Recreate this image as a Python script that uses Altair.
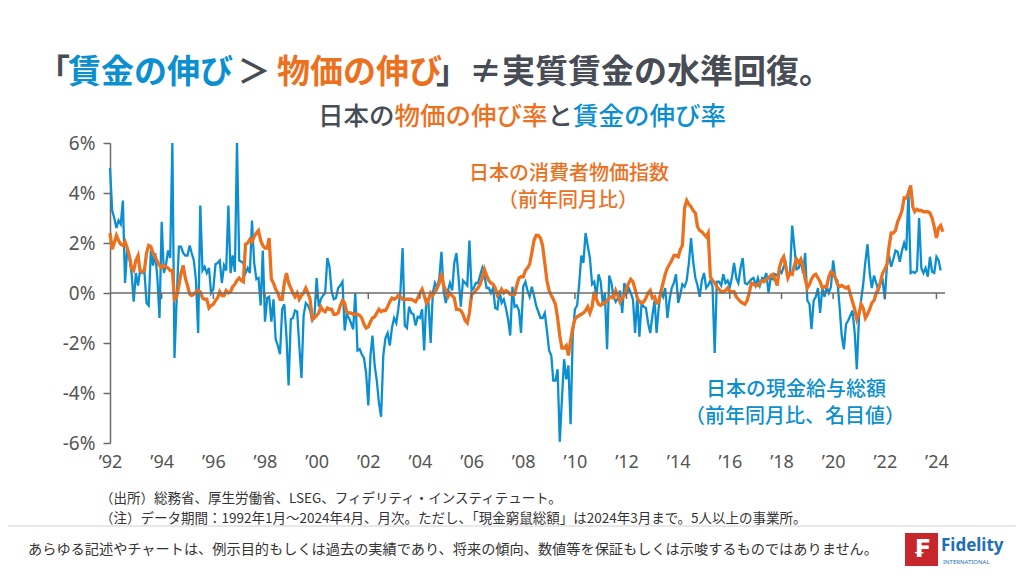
import altair as alt
import pandas as pd

# ---------------- data (monthly, Jan 1992 -> Apr 2024) ----------------
cpi = [
    2.4, 1.75, 2.0, 2.3, 2.1, 1.95, 1.9, 2.05, 1.8, 1.5, 1.0, 0.9,          # 1992
    1.3, 1.5, 0.9, 0.85, 0.9, 1.6, 1.9, 1.85, 1.6, 1.45, 1.25, 1.1,         # 1993
    1.0, 1.1, 1.05, 1.0, 0.9, 0.9, -0.25, -0.15, 0.3, 0.8, 1.1, 0.6,        # 1994
    0.3, -0.05, -0.1, -0.05, 0.05, 0.1, 0.05, -0.2, -0.25, -0.25, -0.6, -0.5,  # 1995
    -0.45, -0.3, -0.2, 0.05, -0.1, -0.1, 0.1, 0.0, 0.05, 0.25, 0.35, 0.5,   # 1996
    0.6, 0.5, 0.45, 1.95, 2.0, 2.15, 2.05, 2.25, 2.4, 2.5, 2.1, 1.9,        # 1997
    1.8, 1.8, 2.2, 0.55, 0.4, 0.15, 0.0, -0.25, -0.25, 0.4, 0.8, 0.4,       # 1998
    0.2, 0.0, -0.15, 0.0, -0.25, -0.1, 0.0, 0.2, 0.0, -0.25, -1.05, -1.0,   # 1999
    -0.9, -0.8, -0.55, -0.7, -0.75, -0.6, -0.65, -0.65, -0.85, -0.85, -0.8, -0.5,  # 2000
    -0.3, -0.4, -0.75, -0.8, -0.8, -0.85, -0.85, -0.85, -0.9, -1.0, -1.25, -1.4,   # 2001
    -1.35, -1.15, -1.0, -0.95, -0.8, -0.65, -0.75, -0.7, -0.7, -0.55, -0.35, -0.2, # 2002
    -0.25, -0.2, -0.1, -0.15, -0.25, -0.25, -0.25, -0.25, -0.25, -0.3, -0.35, -0.2, # 2003
    0.0, 0.15, -0.1, -0.4, -0.3, 0.0, -0.1, 0.05, 0.2, 0.4, 0.8, 0.3,       # 2004
    0.1, -0.15, 0.0, -0.1, -0.2, -0.65, -0.65, -0.7, -0.85, -1.1, -1.2, -0.8,  # 2005
    -0.05, 0.0, 0.1, 0.2, 0.35, 0.6, 0.95, 0.7, 0.5, 0.4, 0.35, 0.2,        # 2006
    -0.1, 0.0, 0.15, 0.0, 0.1, 0.05, -0.05, -0.05, -0.05, 0.3, 0.6, 0.65,   # 2007
    0.65, 0.9, 1.0, 1.15, 1.6, 2.1, 2.3, 2.3, 2.2, 1.9, 1.2, 0.5,           # 2008
    0.1, -0.1, -0.25, -0.45, -1.0, -1.7, -2.2, -2.2, -2.1, -2.5, -1.9, -1.4,   # 2009
    -1.05, -0.95, -0.9, -0.85, -0.8, -0.7, -0.55, -0.8, -0.55, 0.05, -0.25, -0.45,  # 2010
    -0.5, -0.4, -0.4, -0.3, -0.2, -0.15, -0.2, 0.1, -0.1, -0.35, -0.2, -0.1,  # 2011
    0.2, 0.4, 0.55, 0.45, 0.15, -0.2, -0.35, -0.4, -0.35, -0.2, 0.0, 0.1,   # 2012
    -0.2, -0.15, -0.4, -0.35, 0.05, 0.4, 0.75, 1.0, 1.15, 1.3, 1.5, 1.5,    # 2013
    1.45, 1.75, 1.9, 3.4, 3.7, 3.55, 3.45, 3.3, 3.2, 2.65, 2.5, 2.45,       # 2014
    2.35, 2.25, 2.4, 0.65, 0.5, 0.4, 0.25, 0.15, 0.05, 0.05, 0.1, 0.2,      # 2015
    0.05, 0.05, 0.05, -0.15, -0.25, -0.35, -0.4, -0.45, -0.3, 0.0, 0.4, 0.35,  # 2016
    0.3, 0.3, 0.4, 0.5, 0.45, 0.55, 0.6, 0.7, 0.75, 0.55, 0.3, 1.0,         # 2017
    1.3, 1.45, 1.05, 0.6, 0.8, 0.75, 1.1, 1.35, 1.2, 1.35, 1.05, 0.55,      # 2018
    0.2, 0.35, 0.55, 0.7, 0.75, 0.6, 0.45, 0.2, 0.25, 0.25, 0.65, 0.85,     # 2019
    0.8, 0.6, 0.35, 0.25, 0.3, 0.25, 0.2, 0.25, -0.05, -0.35, -0.65, -1.05, # 2020
    -0.8, -0.45, -0.6, -1.0, -0.85, -0.65, -0.4, -0.3, 0.0, 0.15, 0.45, 0.8,  # 2021
    0.95, 1.15, 1.85, 2.4, 2.4, 2.5, 2.85, 3.05, 3.3, 3.8, 3.8, 4.0,        # 2022
    4.3, 3.45, 3.25, 3.35, 3.3, 3.3, 3.25, 3.25, 3.25, 3.2, 3.0, 2.65,      # 2023
    2.2, 2.6, 2.7, 2.45,                                                    # 2024
]

wage = [
    5.0, 3.3, 3.0, 2.6, 2.9, 2.75, 3.7, 0.4, 1.8, 1.4, 0.8, -0.35,          # 1992
    0.8, 0.3, 0.9, 0.8, 0.9, -0.4, -0.5, 1.7, 1.1, 1.6, 0.6, -1.0,          # 1993
    2.85, 0.8, 1.1, 1.7, 1.4, 6.0, -2.6, -0.25, 1.85, 1.85, 1.6, 1.5,       # 1994
    1.5, 1.9, 1.6, 1.3, 0.5, -1.6, 3.5, 0.9, 1.05, 0.8, 1.0, 0.0,           # 1995
    0.15, 1.15, 1.2, 1.3, 0.4, 1.1, 0.9, 3.5, 0.8, 1.5, 0.85, 6.0,          # 1996
    1.3, 1.25, 1.2, 0.8, 1.0, 0.8, 2.9, 1.2, 0.55, 0.6, -0.5, 1.7,          # 1997
    -1.15, -0.2, -0.15, -1.15, -0.25, -1.85, -2.1, -2.45, -0.65, -0.45, -1.75, -3.7,  # 1998
    -1.05, -1.0, -0.7, -0.75, -2.1, -3.4, -0.9, -0.4, -0.5, -0.7, -1.1, -0.95,        # 1999
    0.6, -0.55, -0.25, -0.1, 0.0, 1.4, 1.05, 0.05, -0.25, -0.2, 0.2, 0.3,   # 2000
    0.45, -1.5, -0.85, -1.0, -1.2, -1.45, 0.0, -2.3, -2.25, -2.45, -2.6, -3.2,   # 2001
    -4.5, -2.5, -1.7, -2.9, -3.5, -4.4, -4.95, -2.5, -1.8, -1.6, -2.1, -1.4,    # 2002
    -1.0, -1.2, -0.65, 0.1, 1.8, -1.3, -1.4, -0.55, -0.8, -0.85, -1.3, -0.95,   # 2003
    -1.0, -0.65, -2.3, -0.2, -0.4, -2.0, 0.0, 0.4, 0.2, 0.6, 1.65, 0.1,     # 2004
    -0.4, 0.1, 0.4, 0.1, 1.2, 1.6, 0.6, -0.55, 0.5, 0.4, 0.3, 2.1,          # 2005
    0.1, 0.2, 0.4, 0.4, 0.7, 1.0, 0.7, 0.2, 0.2, 0.0, 0.2, -0.6,            # 2006
    -0.65, 0.1, -0.4, -0.25, -0.6, -1.05, -1.7, 0.25, -0.55, -0.5, -0.7, -1.6,  # 2007
    0.25, 0.45, 0.1, -0.15, 0.25, -0.1, -0.5, -0.75, -1.0, -1.0, -0.8, -1.5,    # 2008
    -2.3, -2.5, -3.5, -3.5, -3.05, -5.95, -4.25, -2.65, -3.45, -2.9, -5.25, -1.7,  # 2009
    -0.65, -0.5, 0.3, 1.5, 1.2, 2.4, 1.9, 1.4, 0.35, 0.45, -0.15, 0.75,     # 2010
    0.45, -0.5, 0.0, -2.25, 0.7, 0.4, -0.15, -0.35, -0.2, 0.1, -0.8, 0.4,   # 2011
    0.0, 0.2, 0.0, -0.25, -1.6, -0.15, -1.75, -0.4, -0.55, -0.6, -1.2, -1.6,  # 2012
    -0.9, -0.3, -1.6, -0.55, 0.1, -0.15, 0.2, -1.0, -0.25, 0.2, 0.4, 0.75,  # 2013
    -0.4, -0.05, 0.35, 0.25, 0.5, 1.2, 2.2, 1.25, 0.6, 0.3, -0.15, 0.5,     # 2014
    0.8, 0.2, 0.3, 0.5, 0.25, -2.4, 0.45, 0.45, 0.3, 0.75, 0.4, 0.5,        # 2015
    0.25, 0.65, 1.2, 0.6, 0.4, 1.0, 1.4, 0.4, 0.35, 0.45, 0.55, 0.6,        # 2016
    0.3, 0.6, 0.3, 0.6, 0.55, 0.8, 0.0, 0.6, 0.55, 0.75, 0.7, 0.9,          # 2017
    0.8, 1.05, 1.2, 0.65, 0.8, 2.7, 1.85, 0.95, 1.0, 1.3, 0.8, 1.6,         # 2018
    -0.3, -0.45, -1.45, -0.3, -0.15, 0.2, -0.8, 0.2, -0.15, 0.25, 0.0, 0.25,  # 2019
    1.3, 0.6, 0.5, -0.55, -1.7, -2.25, -1.25, -1.1, -0.9, -0.7, -1.6, -3.05,  # 2020
    -0.95, -0.25, 0.35, 1.25, 1.95, 0.8, 0.2, 0.7, 0.4, 0.1, 0.4, 0.5,      # 2021
    -0.25, 1.15, 1.5, 1.05, 1.35, 1.7, 1.65, 1.25, 1.7, 2.0, 1.7, 4.1,      # 2022
    0.8, 0.85, 0.8, 0.9, 3.0, 1.0, 0.8, 1.0, 0.65, 1.45, 0.85, 0.8,         # 2023
    1.45, 1.3, 0.9,                                                         # 2024
]

y_ticks = [-6, -4, -2, 0, 2, 4, 6]
x_tick_years = list(range(1992, 2025, 2))

title_parts = ["「", "賃金の伸び", "＞", "物価の伸び", "」≠実質賃金の水準回復。"]
subtitle_parts = ["日本の", "物価の伸び率", "と", "賃金の伸び率"]
cpi_label = ["日本の消費者物価指数", "（前年同月比）"]
wage_label = ["日本の現金給与総額", "（前年同月比、名目値）"]
source_note = "（出所）総務省、厚生労働省、LSEG、フィデリティ・インスティテュート。"
data_note = "（注）データ期間：1992年1月～2024年4月、月次。ただし、「現金窮鼠総額」は2024年3月まで。5人以上の事業所。"
disclaimer = "あらゆる記述やチャートは、例示目的もしくは過去の実績であり、将来の傾向、数値等を保証もしくは示唆するものではありません。"

# ---------------- styling ----------------
BLUE = "#0b8fd0"
ORANGE = "#ec711f"
GRAY = "#474c55"
AXIS_GRAY = "#6b6b6b"
FONT = "Noto Sans CJK JP"

W, H = 835, 300
PAD = {"left": 102, "top": 135, "right": 71, "bottom": 123}

months = pd.date_range("1992-01-01", periods=len(cpi), freq="MS")
df_cpi = pd.DataFrame({"date": months, "value": cpi})
df_wage = pd.DataFrame({"date": months[: len(wage)], "value": wage})

x_scale = alt.Scale(domain=[alt.DateTime(year=1992, month=1, date=1),
                            alt.DateTime(year=2024, month=5, date=1)])
y_scale = alt.Scale(domain=[-6, 6], nice=False, zero=False)

x_axis = alt.Axis(
    values=[alt.DateTime(year=y, month=1, date=1) for y in x_tick_years],
    labelExpr="'\u2019' + timeFormat(datum.value, '%y')",
    domain=False, ticks=False, grid=False, title=None,
    labelFontSize=18, labelColor="#555555", labelPadding=10, labelFont="Noto Sans",
    labelFlush=False, labelOverlap=False,
)
y_axis = alt.Axis(
    values=y_ticks, labelExpr="datum.value + '%'",
    domain=True, domainColor=AXIS_GRAY, domainWidth=1.5,
    ticks=True, tickSize=7, tickColor=AXIS_GRAY, tickWidth=1.5,
    grid=False, title=None, labelFontSize=19, labelColor="#555555",
    labelPadding=8, labelFont="Noto Sans",
)

wage_line = alt.Chart(df_wage).mark_line(color=BLUE, strokeWidth=2.3).encode(
    x=alt.X("date:T", scale=x_scale, axis=x_axis),
    y=alt.Y("value:Q", scale=y_scale, axis=y_axis),
)
cpi_line = alt.Chart(df_cpi).mark_line(color=ORANGE, strokeWidth=3.3).encode(
    x=alt.X("date:T", scale=x_scale),
    y=alt.Y("value:Q", scale=y_scale),
)
zero_rule = alt.Chart(pd.DataFrame({"v": [0]})).mark_rule(color=AXIS_GRAY, strokeWidth=1.5).encode(
    y=alt.Y("v:Q", scale=y_scale)
)
tick_df = pd.DataFrame({"date": pd.to_datetime([f"{y}-01-01" for y in x_tick_years[1:]])})
zero_ticks = alt.Chart(tick_df).mark_rule(color=AXIS_GRAY, strokeWidth=1.5).encode(
    x=alt.X("date:T", scale=x_scale),
    y=alt.datum(0),
    y2=alt.datum(-0.24),
)


def label(text, x, y, size, color, align="left", weight="normal", font=FONT):
    return alt.Chart(pd.DataFrame({"t": [text]})).mark_text(
        align=align, baseline="middle", fontSize=size, color=color,
        fontWeight=weight, font=font,
    ).encode(x=alt.value(x), y=alt.value(y), text="t:N")


OX, OY = 110, 143  # page position of plot origin

texts = []
# title (page y ~72)
ty = 73 - OY
title_pos = [(70, "right", GRAY), (68, "left", BLUE), (254, "center", GRAY),
             (277, "left", ORANGE), (436, "left", GRAY)]
for part, (px, al, col) in zip(title_parts, title_pos):
    texts.append(label(part, px - OX, ty, 33, col, align=al, weight="bold"))

# subtitle (page y ~117)
sy = 117 - OY
cw = 25.5
sx = 318
sub_cols = [GRAY, ORANGE, GRAY, BLUE]
for part, col in zip(subtitle_parts, sub_cols):
    texts.append(label(part, sx - OX, sy, cw, col, weight=500))
    sx += cw * len(part)

# series annotations
texts.append(label(cpi_label[0], 569 - OX, 174 - OY, 20, ORANGE, align="center", weight=500))
texts.append(label(cpi_label[1], 568 - OX, 201 - OY, 20, ORANGE, align="center", weight=500))
texts.append(label(wage_label[0], 796 - OX, 390 - OY, 20, BLUE, align="center", weight=500))
texts.append(label(wage_label[1], 795 - OX, 417 - OY, 20, BLUE, align="center", weight=500))

# footnotes
texts.append(label(source_note, 100 - OX, 499 - OY, 13.5, "#333333"))
texts.append(label(data_note, 100 - OX, 519 - OY, 13.5, "#333333"))
texts.append(label(disclaimer, 28 - OX, 550 - OY, 14.2, "#333333"))

sep = alt.Chart(pd.DataFrame({"k": [1]})).mark_rule(color="#d0d0d0", strokeWidth=1).encode(
    x=alt.value(8 - OX), x2=alt.value(1016 - OX), y=alt.value(526 - OY)
)

logo_box = alt.Chart(pd.DataFrame({"k": [1]})).mark_rect(color="#c8262d").encode(
    x=alt.value(905 - OX), x2=alt.value(938 - OX), y=alt.value(533 - OY), y2=alt.value(566 - OY)
)
texts.append(label("₣", 921.5 - OX, 550 - OY, 24, "white", align="center", weight="bold", font="DejaVu Sans"))
texts.append(label("Fidelity", 941 - OX, 546 - OY, 17, "#1d6fb8", weight="bold", font="Noto Sans"))
texts.append(label("INTERNATIONAL", 943 - OX, 562 - OY, 6, "#1d6fb8", font="Noto Sans"))

chart = alt.layer(
    wage_line, cpi_line, zero_rule, zero_ticks, sep, logo_box, *texts
).properties(
    width=W, height=H, padding=PAD, autosize=alt.AutoSizeParams(type="none"),
    background="white",
).configure_view(stroke=None)

chart.save("out.html", embed_options={"renderer": "svg", "actions": False})
